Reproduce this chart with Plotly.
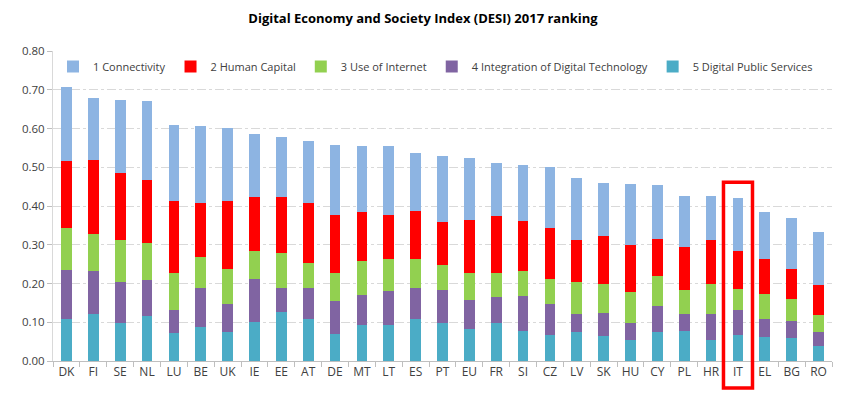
import plotly.graph_objects as go

countries = ["DK", "FI", "SE", "NL", "LU", "BE", "UK", "IE", "EE", "AT", "DE", "MT", "LT", "ES", "PT",
             "EU", "FR", "SI", "CZ", "LV", "SK", "HU", "CY", "PL", "HR", "IT", "EL", "BG", "RO"]

connectivity = [0.192, 0.161, 0.188, 0.204, 0.197, 0.197, 0.187, 0.162, 0.156, 0.160, 0.180, 0.170, 0.177, 0.150, 0.170,
                0.159, 0.139, 0.144, 0.158, 0.160, 0.136, 0.159, 0.137, 0.131, 0.115, 0.135, 0.120, 0.132, 0.136]
human_capital = [0.171, 0.191, 0.173, 0.163, 0.184, 0.141, 0.177, 0.141, 0.145, 0.154, 0.151, 0.125, 0.113, 0.125, 0.111,
                 0.136, 0.146, 0.131, 0.131, 0.109, 0.125, 0.122, 0.096, 0.113, 0.113, 0.099, 0.092, 0.077, 0.077]
use_internet = [0.110, 0.094, 0.108, 0.095, 0.096, 0.080, 0.089, 0.071, 0.090, 0.066, 0.073, 0.088, 0.084, 0.073, 0.066,
                0.071, 0.062, 0.063, 0.065, 0.082, 0.075, 0.079, 0.077, 0.061, 0.077, 0.054, 0.063, 0.057, 0.044]
integration_tech = [0.125, 0.111, 0.108, 0.094, 0.059, 0.101, 0.072, 0.111, 0.062, 0.079, 0.084, 0.079, 0.088, 0.080, 0.084,
                    0.075, 0.068, 0.091, 0.080, 0.046, 0.058, 0.045, 0.068, 0.043, 0.068, 0.066, 0.047, 0.045, 0.035]
public_services = [0.109, 0.122, 0.097, 0.115, 0.073, 0.087, 0.076, 0.101, 0.126, 0.109, 0.070, 0.092, 0.092, 0.109, 0.098,
                   0.082, 0.097, 0.077, 0.066, 0.075, 0.065, 0.053, 0.075, 0.078, 0.053, 0.066, 0.062, 0.059, 0.040]

y_ticks = [0.0, 0.1, 0.2, 0.3, 0.4, 0.5, 0.6, 0.7, 0.8]

series = [
    ("5 Digital Public Services", public_services, "#4BACC6"),
    ("4 Integration of Digital Technology", integration_tech, "#8064A2"),
    ("3 Use of Internet", use_internet, "#92D050"),
    ("2 Human Capital", human_capital, "#FF0000"),
    ("1 Connectivity", connectivity, "#8DB4E2"),
]

fig = go.Figure()
for name, vals, color in series:
    fig.add_trace(go.Bar(x=countries, y=vals, name=name, marker=dict(color=color, line=dict(width=0))))

font_family = "Open Sans, Liberation Sans, sans-serif"

# The page body adds an 8px offset; margins are adjusted so the plot lands where the reference has it.
W, H = 839, 392
fig.update_layout(
    width=W, height=H,
    barmode="stack", bargap=0.6,
    plot_bgcolor="white", paper_bgcolor="white",
    margin=dict(l=45, r=15, t=43, b=39, pad=0),
    font=dict(family=font_family, size=11, color="#404040"),
    title=dict(text="<b>Digital Economy and Society Index (DESI) 2017 ranking</b>",
               x=415 / W, xanchor="center", y=1 - 10 / H, yanchor="middle",
               font=dict(family=font_family, size=13, color="#000000")),
    legend=dict(orientation="h", traceorder="reversed", x=0.0, xanchor="left",
                y=0.95, yanchor="middle", bgcolor="rgba(255,255,255,0)",
                font=dict(size=11, color="#404040"), itemwidth=30),
    showlegend=True,
)

fig.update_yaxes(range=[0, 0.8], tickvals=y_ticks, tickformat=".2f",
                 showgrid=True, gridcolor="#D9D9D9", griddash="dashdot", gridwidth=1,
                 showline=True, linecolor="#D9D9D9", linewidth=1,
                 ticks="outside", ticklen=5, tickcolor="#BFBFBF",
                 zeroline=False, tickfont=dict(size=11.5, color="#404040"))
fig.update_xaxes(showline=True, linecolor="#BFBFBF", linewidth=1,
                 ticks="outside", ticklen=5, tickcolor="#BFBFBF", tickson="boundaries",
                 showgrid=False, tickfont=dict(size=12, color="#404040"))

# highlight box around IT
it_idx = countries.index("IT")
fig.add_shape(type="rect", xref="x", yref="paper",
              x0=it_idx - 0.54, x1=it_idx + 0.54, y0=-0.087, y1=0.577,
              line=dict(color="#FF0000", width=3.5), fillcolor="rgba(0,0,0,0)", layer="above")

fig.write_html("out.html")
